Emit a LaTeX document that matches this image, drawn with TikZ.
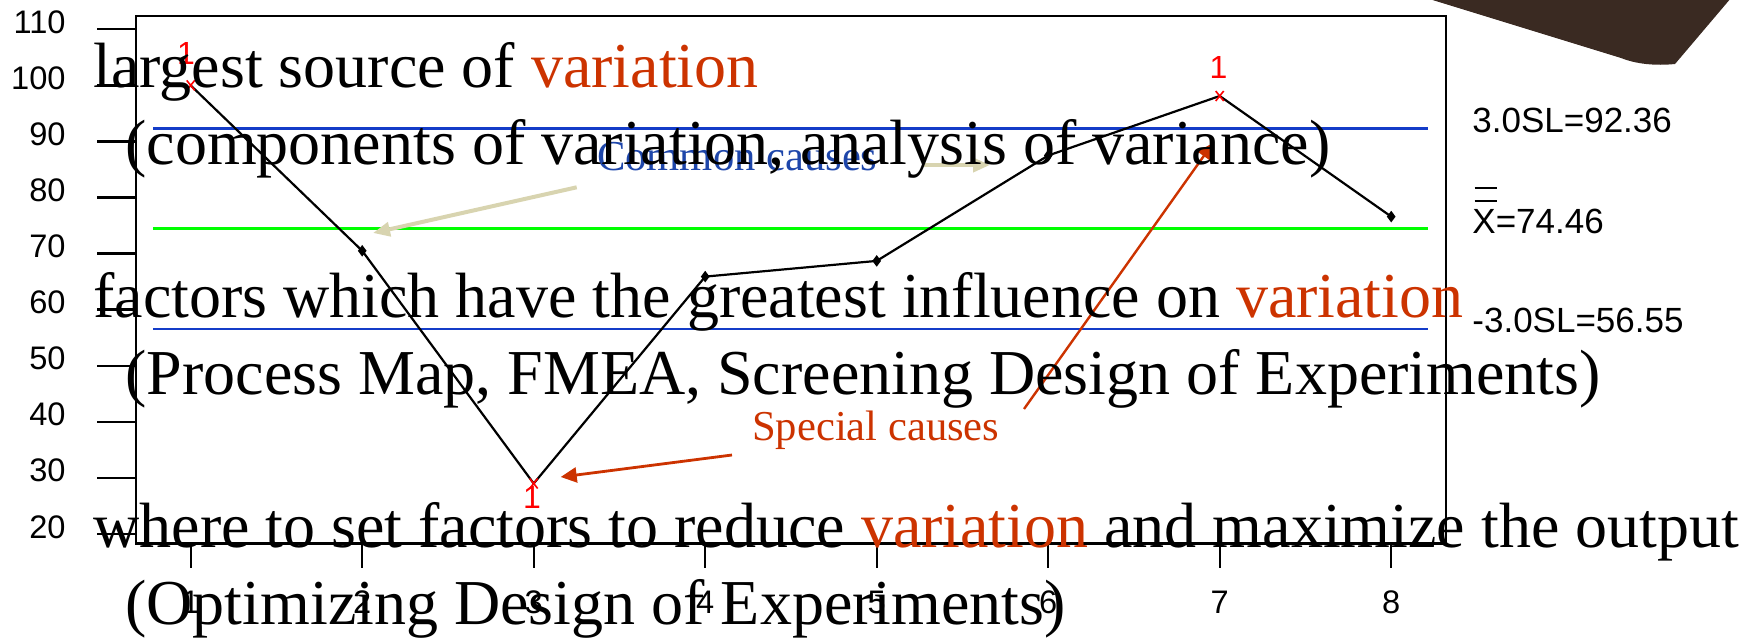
\documentclass[tikz,border=0pt]{standalone}
\usepackage{fontspec}
\setmainfont{Liberation Serif}
\newfontfamily\arialf{Liberation Sans}
\usetikzlibrary{arrows.meta,shapes.geometric}
\definecolor{vred}{RGB}{204,51,0}
\definecolor{ccblue}{RGB}{30,70,170}
\definecolor{slblue}{RGB}{20,60,200}
\definecolor{clgreen}{RGB}{0,255,0}
\definecolor{beige}{RGB}{216,212,176}
\definecolor{brownish}{RGB}{58,42,34}
\begin{document}
\begin{tikzpicture}[x=0.5pt,y=-0.5pt,
  bigtext/.style={font=\fontsize{32}{38}\selectfont, anchor=base west, inner sep=0pt},
  axlabel/.style={font=\arialf\fontsize{16.3}{19}\selectfont, inner sep=0pt},
  rlabel/.style={font=\arialf\fontsize{17.5}{20}\selectfont, inner sep=0pt, anchor=base west},
  redlabel/.style={font=\arialf\fontsize{16}{18}\selectfont, inner sep=0pt, text=red, anchor=base},
  causes/.style={font=\fontsize{21.3}{25}\selectfont, inner sep=0pt, anchor=base west},
  mk/.style={diamond, fill=black, inner sep=0pt, minimum width=4.5pt, minimum height=6pt},
  ctrl/.style={line width=1.4pt},
  tickline/.style={line width=1.2pt},
  beigearrow/.style={draw=beige, line width=2pt, -{Triangle[length=8.5pt,width=7pt]}},
  redarrow/.style={draw=vred, line width=1.4pt, -{Triangle[length=8pt,width=7.5pt]}}
]
\useasboundingbox (0,0) rectangle (1754,637);

% decorative shape top right
\fill[brownish] (1426,-2) -- (1621,58) .. controls (1636,64) and (1655,66) .. (1675,64) -- (1731,-2) -- cycle;

% control lines
\draw[ctrl, slblue] (153,128.3) -- (1427.7,128.3);
\draw[ctrl, clgreen] (153,228.6) -- (1427.7,228.6);
\draw[ctrl, slblue] (153,329) -- (1427.7,329);

% frame
\draw[line width=1.2pt] (136,15.7) rectangle (1445.7,543.3);

% y ticks and labels
\foreach \v in {20,30,...,110}{
  \pgfmathsetmacro{\yy}{534-(\v-20)*5.608}
  \draw[tickline] (97,\yy) -- (136,\yy);
  \node[axlabel, anchor=base east] (yl\v) at (66,\yy+4) {\v};
}
% x ticks and labels
\foreach \i in {1,...,8}{
  \pgfmathsetmacro{\xx}{190.7+(\i-1)*171.5}
  \draw[line width=0.8pt] (\xx,543.3) -- (\xx,568);
  \node[axlabel, anchor=base] (xl\i) at (\xx,613) {\i};
}

% data points
\coordinate (p1) at (190.7,85.4);
\coordinate (p2) at (362.2,250.8);
\coordinate (p3) at (533.7,483.5);
\coordinate (p4) at (705.2,276.6);
\coordinate (p5) at (876.7,260.9);
\coordinate (p6) at (1048.2,155.5);
\coordinate (p7) at (1219.7,96);
\coordinate (p8) at (1391.2,216.6);
\draw[line width=1.1pt] (p1) -- (p2) -- (p3) -- (p4) -- (p5) -- (p6) -- (p7) -- (p8);
\foreach \p in {p2,p4,p5,p6,p8}{ \node[mk] (m\p) at (\p) {}; }
\foreach \p in {p1,p3,p7}{
  \draw[red, line width=0.8pt] (\p) ++(-4,-5) -- ++(8,10) ++(0,-10) -- ++(-8,10);
}
\node[redlabel] (r1) at (186,64) {1};
\node[redlabel] (r7) at (1218.5,78.3) {1};
\node[redlabel] (r3) at (532,508) {1};

% right labels
\node[rlabel] (ucl) at (1472,132.3) {3.0SL=92.36};
\node[rlabel] (cl) at (1472,233.3) {X=74.46};
\node[rlabel] (lcl) at (1472,332.3) {-3.0SL=56.55};
\coordinate (bar1a) at (1474.7,188.3); \coordinate (bar1b) at (1496.7,188.3);
\coordinate (bar2a) at (1474.7,201); \coordinate (bar2b) at (1496.7,201);
\draw[line width=1pt] (bar1a) -- (bar1b);
\draw[line width=1pt] (bar2a) -- (bar2b);

% cause labels and arrows
\node[causes, text=ccblue] (common) at (596.7,170) {Common causes};
\node[causes, text=vred] (special) at (751.8,440) {Special causes};
\coordinate (ca1) at (576.7,187.3); \coordinate (ca1t) at (373,233);
\coordinate (ca2) at (921.7,165); \coordinate (ca2t) at (990,165);
\draw[beigearrow] (ca1) -- (ca1t);
\draw[beigearrow] (ca2) -- (ca2t);
\coordinate (sa1) at (732,455); \coordinate (sa1t) at (560.7,477);
\coordinate (sa2) at (1024,409); \coordinate (sa2t) at (1213,143);
\draw[redarrow] (sa1) -- (sa1t);
\draw[redarrow, line width=1.2pt] (sa2) -- (sa2t);

% big text lines
\node[bigtext] (t1) at (93,87.3) {largest source of \textcolor{vred}{variation}};
\node[bigtext] (t2) at (125,164) {(components of variation, analysis of variance)};
\node[bigtext] (t3) at (93,317.4) {factors which have the greatest influence on \textcolor{vred}{variation}};
\node[bigtext] (t4) at (125,394) {(Process Map, FMEA, Screening Design of Experiments)};
\node[bigtext] (t5) at (93,547.4) {where to set factors to reduce \textcolor{vred}{variation} and maximize the output};
\node[bigtext] (t6) at (125,624) {(Optimizing Design of Experiments)};
\end{tikzpicture}
\end{document}
